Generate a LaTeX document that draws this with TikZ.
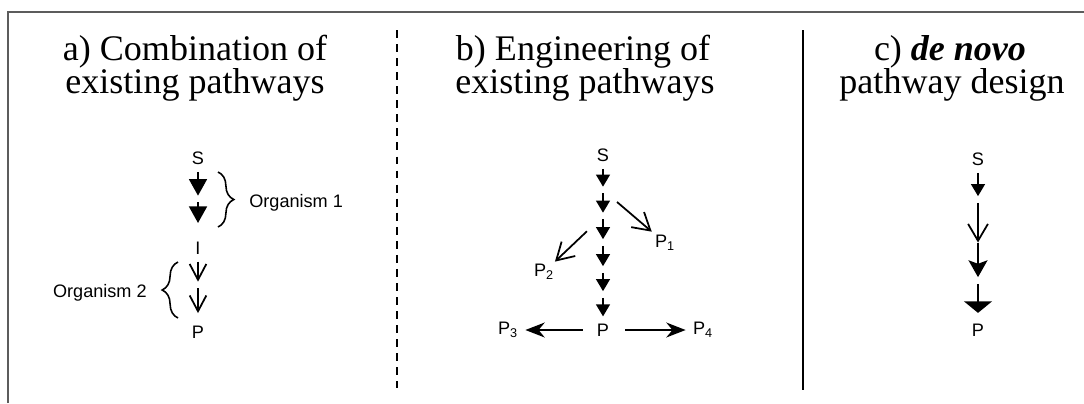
\documentclass[tikz,border=0pt]{standalone}
\usepackage{fontspec}
\usepackage{tikz}
\usetikzlibrary{arrows.meta,positioning,decorations.pathreplacing,calc}
\newfontfamily\hdfont{Liberation Serif}
\newfontfamily\lblfont{Liberation Sans}
\definecolor{framegray}{HTML}{5c5c5c}

\begin{document}
\begin{tikzpicture}[
  x=0.02cm, y=-0.02cm, font=\lblfont,
  lbl/.style={font=\lblfont\fontsize{10.3}{12}\selectfont, inner sep=4pt},
  hd/.style={font=\hdfont\fontsize{20.5}{24}\selectfont, anchor=base, inner sep=0pt},
  jn/.style={inner sep=0pt, minimum size=3.4pt},
  rxn/.style={line width=1pt},
  bigfill/.style={rxn, -{Triangle[length=9.4pt,width=10.2pt]}},
  smallfill/.style={rxn, -{Triangle[length=6.8pt,width=7.8pt]}},
  openv/.style={rxn, -{Straight Barb[length=9pt,width=9.5pt]}},
  wideopen/.style={rxn, -{Straight Barb[length=9.6pt,width=11.3pt]}},
  kite/.style={rxn, -{Stealth[length=9.6pt,width=10.8pt,inset=2pt]}},
  flathead/.style={rxn, -{Triangle[length=6.6pt,width=15.9pt]}},
  sidehead/.style={rxn, -{Stealth[length=11pt,width=8.5pt,inset=3.5pt]}},
  brc/.style={decorate, decoration={brace, amplitude=9pt}, line width=0.9pt}
]
\useasboundingbox (0,0) rectangle (1084,403);

% frame and dividers
\draw[framegray, line width=1.2pt] (8,403) -- (8,12) -- (1084,12);
\draw[line width=0.9pt, dash pattern=on 4.5pt off 3.5pt] (397,30) -- (397,388);
\draw[line width=0.9pt] (803,30) -- (803,390);

% headings
\node[hd] (ha1) at (195,60) {a) Combination of};
\node[hd] (ha2) at (195,93) {existing pathways};
\node[hd] (hb1) at (583,60) {b) Engineering of};
\node[hd] (hb2) at (585,93) {existing pathways};
\node[hd] (hc1) at (950,60) {c) \textbf{\textit{de novo}}};
\node[hd] (hc2) at (952,93) {pathway design};

% a) two organisms
\node[lbl] (aS) at (198,158) {S};
\node[jn] (a1) at (198,199) {};
\node[lbl] (aI) at (198,248) {I};
\node[jn] (a2) at (198,285) {};
\node[lbl] (aP) at (198,332) {P};
\draw[bigfill] (aS) -- (a1);
\draw[bigfill, shorten >=6.5pt] (a1) -- (aI);
\draw[openv] (aI) -- (a2);
\draw[openv, shorten >=3pt] (a2) -- (aP);
\draw[brc] (218,172) -- (218,227);
\node[lbl, anchor=west] (org1) at (242,203) {Organism 1};
\draw[brc] (178,318) -- (178,262);
\node[lbl, anchor=east] (org2) at (154,293) {Organism 2};

% b) branching pathway
\node[lbl] (bS) at (603,155) {S};
\node[jn] (b1) at (603,190) {};
\node[jn] (b2) at (603,216) {};
\node[jn] (b3) at (603,242.5) {};
\node[jn] (b4) at (603,269.5) {};
\node[jn] (b5) at (603,294.5) {};
\node[lbl] (bP) at (603,330) {P};
\node[lbl, inner sep=0pt] (bP1) at (665,243) {P\textsubscript{1}};
\node[lbl, inner sep=0pt] (bP2) at (544,272) {P\textsubscript{2}};
\node[lbl] (bP3) at (508,330) {P\textsubscript{3}};
\node[lbl] (bP4) at (703,330) {P\textsubscript{4}};
\draw[smallfill] (bS) -- (b1);
\draw[smallfill] (b1) -- (b2);
\draw[smallfill] (b2) -- (b3);
\draw[smallfill] (b3) -- (b4);
\draw[smallfill] (b4) -- (b5);
\draw[smallfill] (b5) -- (bP);
\draw[wideopen, shorten <=8pt, shorten >=3pt] (b1) -- (bP1);
\draw[wideopen, shorten <=10pt, shorten >=2pt] (b2) -- (bP2);
\draw[sidehead, shorten <=4pt] (bP) -- (bP3);
\draw[sidehead, shorten <=5pt] (bP) -- (bP4);

% c) de novo design
\node[lbl] (cS) at (978,159) {S};
\node[jn] (c1) at (978,199.5) {};
\coordinate (c2) at (978,242.5);
\node[jn] (c3) at (978,280.5) {};
\node[lbl] (cP) at (978,330) {P};
\draw[smallfill] (cS) -- (c1);
\draw[wideopen] (c1) -- (c2);
\draw[kite] (c2) -- (c3);
\draw[flathead, shorten >=2pt] (c3) -- (cP);
\end{tikzpicture}
\end{document}
